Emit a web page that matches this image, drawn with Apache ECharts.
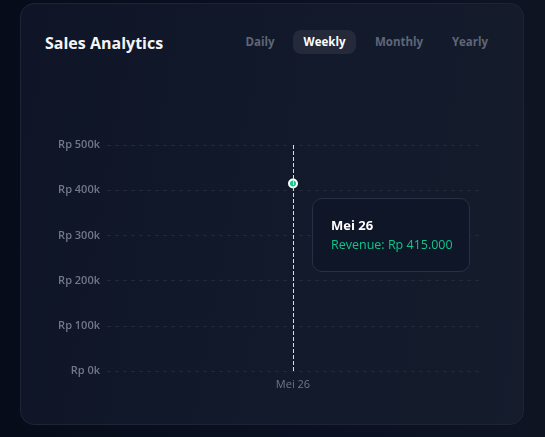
<!DOCTYPE html>
<html>
<head>
<meta charset="utf-8">
<script src="https://cdn.jsdelivr.net/npm/echarts@6/dist/echarts.min.js"></script>
<style>
  html, body { margin: 0; padding: 0; width: 545px; height: 437px; overflow: hidden;
    background: linear-gradient(90deg, #070c1a 0%, #0b1122 60%, #0e1422 100%);
    font-family: "Open Sans", "Noto Sans", sans-serif; }
  .card { position: absolute; left: 20px; top: 3px; width: 502px; height: 420px;
    border: 1px solid #1d2436; border-radius: 14px;
    background: linear-gradient(100deg, #0f1526 0%, #121a2b 60%, #151c2c 100%); }
  .title { position: absolute; left: 45px; top: 32px; color: #f3f4f6; font-size: 16px; font-weight: 700; }
  .tab { position: absolute; top: 30px; height: 24px; line-height: 24px; font-size: 11.5px; font-weight: 700;
    color: #5f6678; text-align: center; border-radius: 8px; }
  .tab.active { background: #242a3a; color: #ffffff; }
  #chart { position: absolute; left: 0; top: 0; width: 545px; height: 437px; }
</style>
</head>
<body>
<div class="card"></div>
<div class="title">Sales Analytics</div>
<div class="tab" style="left:236px;width:48px">Daily</div>
<div class="tab active" style="left:293px;width:63px">Weekly</div>
<div class="tab" style="left:366px;width:66px">Monthly</div>
<div class="tab" style="left:444px;width:52px">Yearly</div>
<div id="chart"></div>
<script>
// data
const categories = ['Mei 26'];
const revenue = [415000];
const yTicks = [0, 100000, 200000, 300000, 400000, 500000];

const fmtRp = v => 'Rp ' + v.toLocaleString('de-DE');

const chart = echarts.init(document.getElementById('chart'));
chart.setOption({
    backgroundColor: 'transparent',
    textStyle: { fontFamily: '"Open Sans", "Noto Sans", sans-serif' },
    grid: { left: 107, right: 66, top: 145, bottom: 66 },
    tooltip: {
        trigger: 'axis',
        alwaysShowContent: true,
        backgroundColor: '#0f1628',
        borderColor: '#283044',
        borderWidth: 1,
        padding: [16, 18],
        extraCssText: 'border-radius:10px;box-shadow:none;width:120px;',
        position: function () { return [312, 198]; },
        axisPointer: {
            type: 'line',
            lineStyle: { color: '#d8dce4', type: 'dashed', width: 1 }
        },
        formatter: function (params) {
            const p = params[0];
            return '<div style="color:#ffffff;font-weight:700;font-size:13px;line-height:20px">' + p.name + '</div>' +
                '<div style="color:#10c48a;font-size:12.5px;line-height:20px">Revenue: ' + fmtRp(p.value) + '</div>';
        }
    },
    xAxis: {
        type: 'category',
        data: categories,
        axisLine: { show: false },
        axisTick: { show: false },
        axisLabel: { color: '#717888', fontSize: 11, margin: 8 }
    },
    yAxis: {
        type: 'value',
        min: yTicks[0],
        max: yTicks[yTicks.length - 1],
        interval: 100000,
        axisLine: { show: false },
        axisTick: { show: false },
        axisLabel: {
            color: '#717888', fontSize: 11, fontWeight: 600, margin: 7,
            formatter: v => 'Rp ' + (v / 1000) + 'k'
        },
        splitLine: { lineStyle: { color: '#222a3a', type: [4, 4] } }
    },
    series: [{
        type: 'line',
        name: 'Revenue',
        data: revenue,
        symbol: 'circle',
        symbolSize: 8,
        showSymbol: true,
        itemStyle: { color: '#10b981', borderColor: '#ffffff', borderWidth: 2 },
        lineStyle: { color: '#10b981', width: 2 },
        emphasis: { scale: false }
    }]
});
setTimeout(function () {
    chart.dispatchAction({ type: 'showTip', seriesIndex: 0, dataIndex: 0 });
}, 50);
</script>
</body>
</html>
